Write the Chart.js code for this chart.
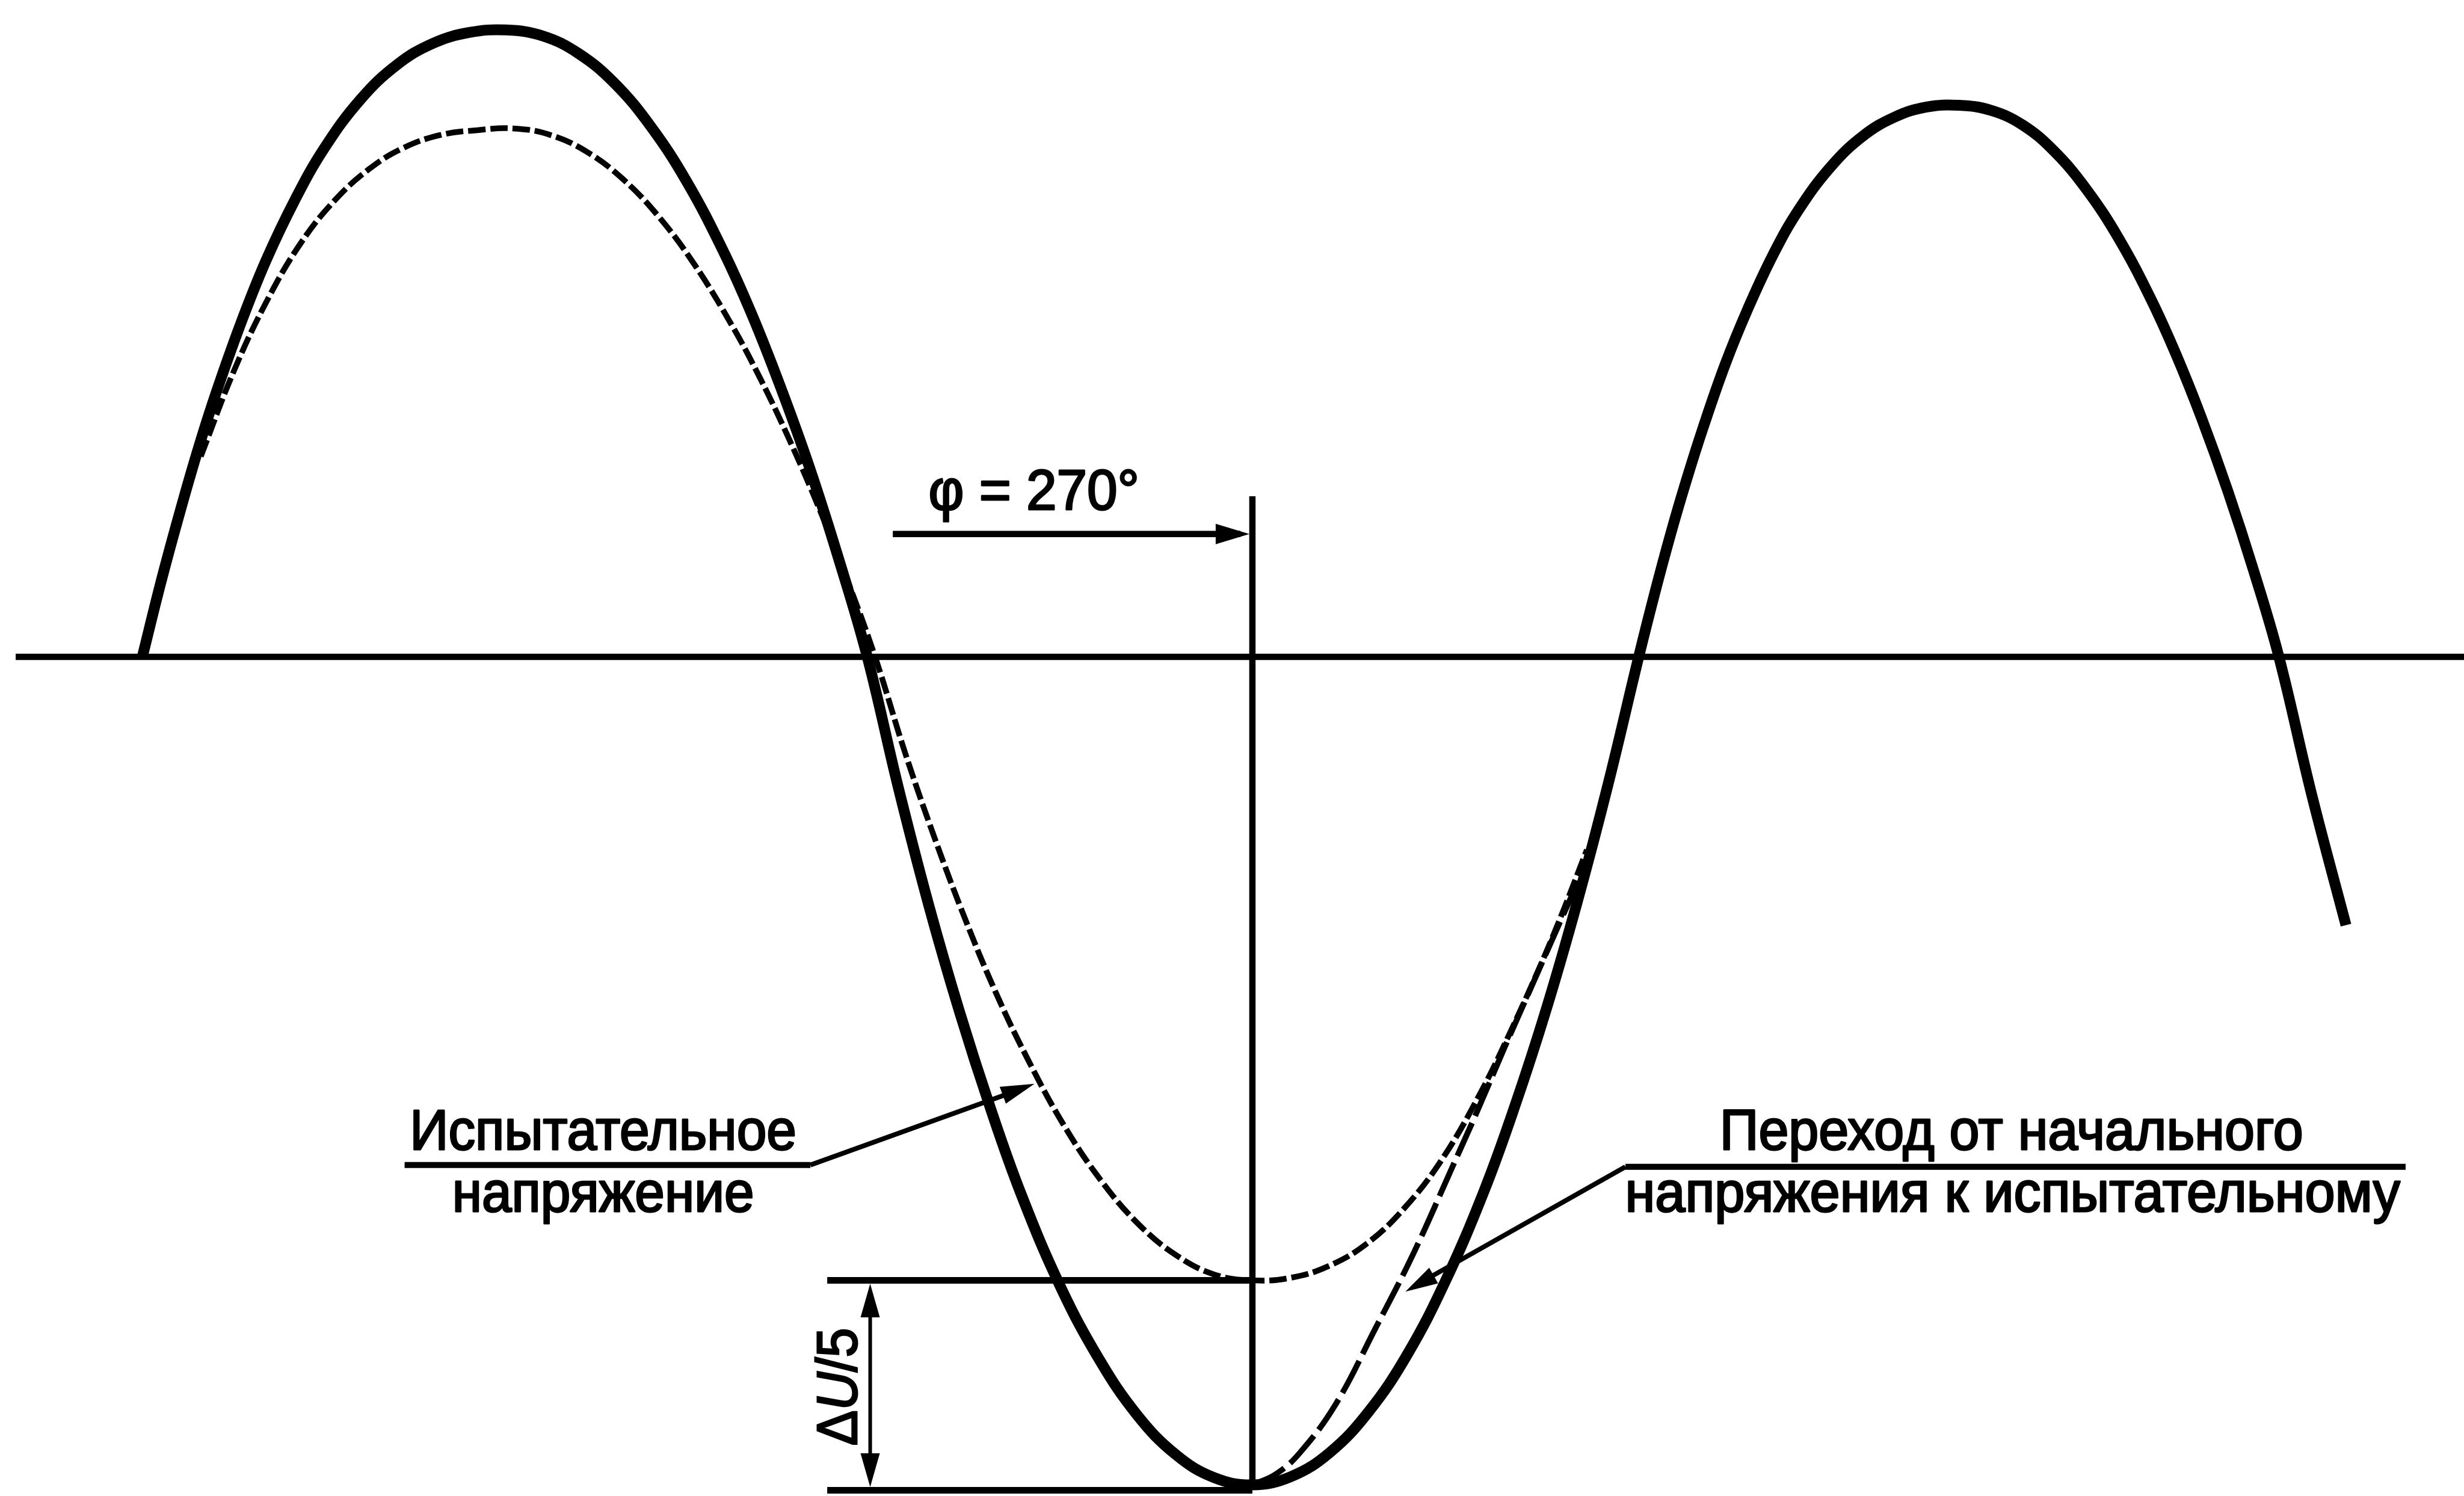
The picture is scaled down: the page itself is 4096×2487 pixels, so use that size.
<!DOCTYPE html>
<html>
<head>
<meta charset="utf-8">
<script src="https://cdn.jsdelivr.net/npm/chart.js@4.4.0/dist/chart.umd.min.js"></script>
<style>
  html, body { margin: 0; padding: 0; background: #fff; }
  canvas { display: block; }
</style>
</head>
<body>
<canvas id="chart" width="4096" height="2487" style="width:4096px;height:2487px"></canvas>
<script>
// phase in degrees, voltage in % of the initial voltage at φ = 270°
let initPhase = [0.2, 4.6, 9.0, 13.4, 17.8, 24.0, 30.2, 37.3, 44.4, 53.2, 62.1, 70.9, 79.7, 88.6,
    97.4, 106.1, 114.9, 123.7, 132.5, 141.3, 148.3, 155.3, 162.4, 169.4, 176.4,
    183.9, 191.4, 198.9, 206.4, 213.8, 223.2, 232.6, 241.9, 251.3, 260.6, 270,
    279.4, 288.8, 298.2, 307.6, 317.0, 326.4, 333.9, 341.4, 348.9, 356.4, 363.9,
    367.8, 371.7, 375.6, 379.5, 384.9, 390.4, 396.6, 402.8, 410.6, 418.4, 426.2, 433.9, 441.7,
    449.5, 457.3, 465.0, 472.8, 480.6, 488.4, 494.6, 500.8, 507.1, 513.3, 519.5, 527.4, 535.8]
let initVolt = [0, 8.8, 16.9, 24.5, 31.4, 40.1, 47.8, 55.2, 61.4, 67.3, 71.5, 74.1, 75.4, 75.7,
    75.0, 72.9, 69.3, 64.1, 57.4, 49.1, 41.4, 32.6, 22.8, 11.9, 0,
    -15.7, -30.1, -43.0, -54.6, -64.9, -75.9, -84.7, -91.5, -96.3, -99.1, -100,
    -99.0, -96.1, -91.2, -84.3, -75.3, -64.4, -54.1, -42.6, -29.7, -15.5, 0,
    7.7, 14.9, 21.5, 27.6, 35.3, 42.0, 48.6, 54.0, 59.2, 62.9, 65.2, 66.4, 66.6,
    66.0, 64.2, 61.0, 56.4, 50.5, 43.2, 36.4, 28.7, 20.0, 10.5, 0, -16.5, -32.4]

let testPhase = [14.4, 22.6, 30.8, 38.9, 47.1, 55.3, 63.4, 72.5, 81.6, 90.7,
    99.5, 108.2, 117.0, 125.8, 134.5, 143.3, 150.3, 157.3, 164.3, 171.3, 178.3,
    185.6, 193.0, 200.3, 207.6, 215.0, 224.1, 233.3, 242.5, 251.6, 260.8, 270,
    279.2, 288.4, 297.7, 306.9, 316.2, 325.4, 332.8, 340.6, 345.6, 351.3]
let testVolt = [24.2, 34.7, 43.3, 50.1, 55.2, 58.9, 61.4, 63.0, 63.6, 63.8,
    63.0, 61.0, 57.7, 53.1, 47.3, 40.2, 33.7, 26.4, 18.4, 9.6, 0,
    -11.6, -22.2, -31.8, -40.5, -48.2, -56.5, -63.3, -68.6, -72.3, -74.6, -75.3,
    -75.0, -73.6, -70.9, -66.6, -60.6, -52.7, -45.2, -36.6, -30.6, -23.3]

let transPhase = [270, 275.7, 281.4, 290.2, 299.8, 309.1, 318.7, 324.8, 331.1, 337.5, 345.6, 350.5, 352.8]
let transVolt = [-100, -98.7, -96.2, -90.3, -81.2, -72.1, -61.5, -54.7, -47.4, -40.2, -31.1, -25.6, -22.8]

let phiMark = 270
let testTrough = -75.3
let phiLabel = 'φ = 270°'
let testLabel = ['Испытательное', 'напряжение']
let transLabel = ['Переход от начального', 'напряжения к испытательному']

const pts = (xs, ys) => xs.map((x, i) => ({x, y: ys[i]}))
const k = v => v * 0.965   // reference px -> page px
const FONT = '"Liberation Sans", Arial, sans-serif'

function seg(ctx, x1, y1, x2, y2, w) {
    ctx.lineWidth = w
    ctx.beginPath()
    ctx.moveTo(x1, y1)
    ctx.lineTo(x2, y2)
    ctx.stroke()
}

function head(ctx, fx, fy, tx, ty, len, half) {
    let a = Math.atan2(ty - fy, tx - fx)
    ctx.save()
    ctx.translate(tx, ty)
    ctx.rotate(a)
    ctx.beginPath()
    ctx.moveTo(0, 0)
    ctx.lineTo(-len, -half)
    ctx.lineTo(-len, half)
    ctx.closePath()
    ctx.fill()
    ctx.restore()
}

// text squeezed to the width it has on the reference, centred on cx
function label(ctx, str, cx, base, w) {
    let m = ctx.measureText(str).width
    ctx.save()
    ctx.translate(cx, base)
    ctx.scale(w / m, 1)
    ctx.textAlign = 'center'
    ctx.lineWidth = 3
    ctx.lineJoin = 'round'
    ctx.fillText(str, 0, 0)
    ctx.strokeText(str, 0, 0)
    ctx.restore()
}

const annotate = {
    id: 'annotate',
    afterDatasetsDraw(chart) {
        let {ctx} = chart
        let {x, y} = chart.scales
        let y0 = y.getPixelForValue(0)
        let yMin = y.getPixelForValue(-100)
        let yTest = y.getPixelForValue(testTrough)
        let xPhi = x.getPixelForValue(phiMark)

        ctx.save()
        ctx.strokeStyle = '#000'
        ctx.fillStyle = '#000'
        ctx.lineCap = 'butt'

        // zero line and the φ marker
        seg(ctx, k(27), y0, chart.width, y0, 10.5)
        seg(ctx, xPhi, k(855), xPhi, yMin, 10.5)

        // φ = 270° arrow
        let ya = k(920)
        seg(ctx, k(1538), ya, xPhi - 20, ya, 10.5)
        head(ctx, k(1538), ya, xPhi - 5, ya, 56, 17)

        ctx.font = '94px ' + FONT
        ctx.textBaseline = 'alphabetic'
        label(ctx, phiLabel, k(1781), k(878), k(363))

        // ΔU/5 dimension
        let yLow = yMin + 9
        seg(ctx, k(1425), yTest, xPhi, yTest, 11)
        seg(ctx, k(1425), yLow, xPhi, yLow, 11)
        let xd = k(1499)
        seg(ctx, xd, yTest + 40, xd, yLow - 40, 6)
        head(ctx, xd, yLow, xd, yTest + 5.5, 56, 16)
        head(ctx, xd, yTest, xd, yLow - 5.5, 56, 16)

        ctx.save()
        ctx.translate(k(1476), k(2389))
        ctx.rotate(-Math.PI / 2)
        let parts = [['Δ', ''], ['U', 'italic '], ['/5', '']]
        let widths = parts.map(([s, st]) => { ctx.font = st + '94px ' + FONT; return ctx.measureText(s).width })
        let total = widths.reduce((a, b) => a + b, 0)
        ctx.scale(k(203) / total, 1)
        let cx = -total / 2
        ctx.lineWidth = 3
        parts.forEach(([s, st], i) => {
            ctx.font = st + '94px ' + FONT
            ctx.textAlign = 'left'
            ctx.fillText(s, cx, 0)
            ctx.strokeText(s, cx, 0)
            cx += widths[i]
        })
        ctx.restore()

        // test voltage label
        ctx.font = '94px ' + FONT
        label(ctx, testLabel[0], k(1039), k(1980), k(666))
        label(ctx, testLabel[1], k(1039), k(2087), k(520))
        seg(ctx, k(697), k(2007), k(1396), k(2007), 10)
        let tip1 = [k(1782), k(1867)]
        seg(ctx, k(1396), k(2007), tip1[0] - 20, tip1[1] + 8, 8)
        head(ctx, k(1396), k(2007), tip1[0], tip1[1], 56, 15)

        // transition label
        label(ctx, transLabel[0], k(3465), k(1980), k(1005))
        label(ctx, transLabel[1], k(3467), k(2087), k(1335))
        seg(ctx, k(2800), k(2010), k(4144), k(2010), 10)
        let tip2 = [k(2421), k(2225)]
        seg(ctx, k(2800), k(2010), tip2[0] + 20, tip2[1] - 12, 8)
        head(ctx, k(2800), k(2010), tip2[0], tip2[1], 54, 15)

        ctx.restore()
    },
}

new Chart(document.getElementById('chart'), {
    type: 'scatter',
    data: {
        datasets: [
            {
                label: 'initial',
                data: pts(initPhase, initVolt),
                showLine: true,
                borderColor: '#000',
                borderWidth: 18,
                pointRadius: 0,
                tension: 0.4,
                order: 0,
            },
            {
                label: 'test',
                data: pts(testPhase, testVolt),
                showLine: true,
                borderColor: '#000',
                borderWidth: 9.5,
                borderDash: [29, 8],
                pointRadius: 0,
                tension: 0.4,
                order: 1,
            },
            {
                label: 'transition',
                data: pts(transPhase, transVolt),
                showLine: true,
                borderColor: '#000',
                borderWidth: 9.5,
                borderDash: [60, 13],
                pointRadius: 0,
                tension: 0.4,
                order: 2,
            },
        ],
    },
    options: {
        responsive: false,
        animation: false,
        devicePixelRatio: 1,
        layout: {padding: 0},
        plugins: {
            legend: {display: false},
            tooltip: {enabled: false},
        },
        scales: {
            x: {type: 'linear', min: -34.40, max: 564.49, display: false},
            y: {type: 'linear', min: -101.34, max: 79.32, display: false},
        },
    },
    plugins: [annotate],
})
</script>
</body>
</html>
